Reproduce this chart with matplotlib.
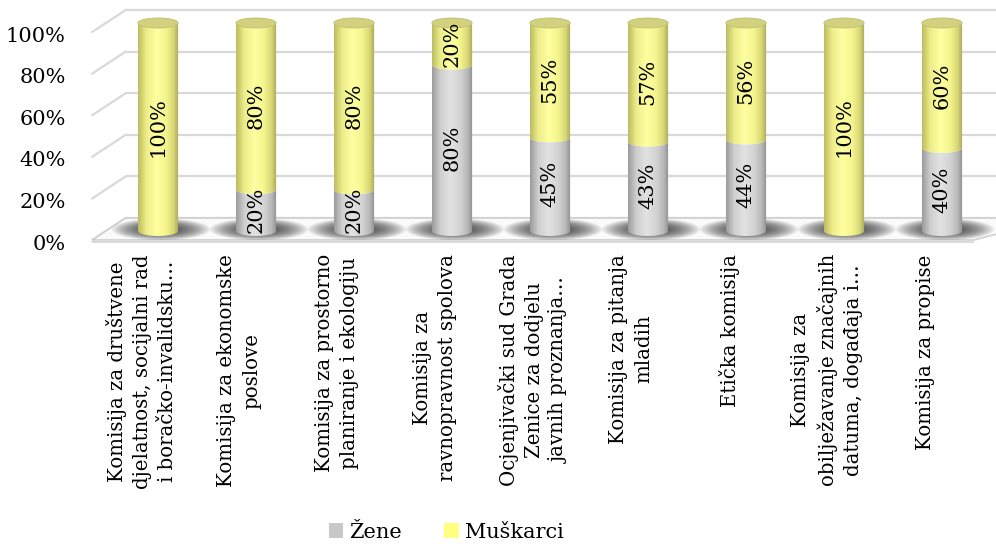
import numpy as np
import matplotlib
matplotlib.use('Agg')
import matplotlib.pyplot as plt
from matplotlib.path import Path
from matplotlib.patches import PathPatch, Polygon, Ellipse, Patch
from matplotlib.colors import LinearSegmentedColormap

plt.rcParams['font.family'] = ['DejaVu Serif']

categories = [
    'Komisija za društvene\ndjelatnost, socijalni rad\ni boračko-invalidsku…',
    'Komisija za ekonomske\nposlove',
    'Komisija za prostorno\nplaniranje i ekologiju',
    'Komisija za\nravnopravnost spolova',
    'Ocjenjivački sud Grada\nZenice za dodjelu\njavnih proznanja…',
    'Komisija za pitanja\nmladih',
    'Etička komisija',
    'Komisija za\nobilježavanje značajnih\ndatuma, događaja i…',
    'Komisija za propise',
]
zene = [0, 20, 20, 80, 45, 43, 44, 0, 40]
muskarci = [100, 80, 80, 20, 55, 57, 56, 100, 60]
series_names = ['Žene', 'Muškarci']
yticks = [0, 20, 40, 60, 80, 100]

# 3d look: depth offsets (x in category units, y in percent)
DX = 0.17
BACK_DY = 6.25
FRONT_DY = -5.3
W = 0.205      # half width of cylinder
B = 2.4        # half height of ellipse cap
FS = 15
FS_CAT = 14.2

yellow_cm = LinearSegmentedColormap.from_list('y', [
    (0.0, '#BDBD62'), (0.2, '#EDED8A'), (0.45, '#FFFFA0'),
    (0.7, '#F4F48E'), (0.88, '#D6D676'), (1.0, '#A8A858')])
gray_cm = LinearSegmentedColormap.from_list('g', [
    (0.0, '#9C9C9C'), (0.2, '#CFCFCF'), (0.45, '#E2E2E2'),
    (0.7, '#D2D2D2'), (0.88, '#B8B8B8'), (1.0, '#8E8E8E')])
cap_colors = {'y': '#D2D27E', 'g': '#C4C4C4'}


def segment_path(x, y0, y1):
    t = np.linspace(np.pi, 2 * np.pi, 30)
    bot = np.column_stack([x + W * np.cos(t), y0 + B * np.sin(t)])
    top = np.column_stack([x + W * np.cos(t[::-1]), y1 + B * np.sin(t[::-1])])
    verts = np.vstack([[x - W, y1], bot, top, [x - W, y1]])
    return Path(verts)


def draw_segment(ax, x, y0, y1, cmap, zorder):
    patch = PathPatch(segment_path(x, y0, y1), facecolor='none',
                      edgecolor='none', transform=ax.transData)
    ax.add_patch(patch)
    grad = np.linspace(0, 1, 64).reshape(1, -1)
    im = ax.imshow(grad, extent=[x - W, x + W, y0 - B, y1], cmap=cmap,
                   aspect='auto', interpolation='bilinear', zorder=zorder)
    im.set_clip_path(patch)


fig = plt.figure(figsize=(9.96, 5.54), dpi=100)
ax = fig.add_axes([85 / 996, 1 - 250 / 554, 911 / 996, 245 / 554])
n = len(categories)
xs = np.arange(n)

left_f, left_b = -0.5 - DX, -0.5 + DX
right_f, right_b = n - 0.5 - DX, n - 0.5 + DX + 0.5

# back wall and side wall grid
for v in yticks:
    ax.plot([left_b, right_b], [v + BACK_DY, v + BACK_DY], color='#D9D9D9',
            lw=1.6, zorder=1, solid_capstyle='butt')
    ax.plot([left_f, left_b], [v + FRONT_DY + 1, v + BACK_DY], color='#D9D9D9',
            lw=1.6, zorder=1)

# floor
floor_top = [(left_f, FRONT_DY + 1), (right_f, FRONT_DY + 1),
             (right_b, BACK_DY), (left_b, BACK_DY)]
floor = Polygon(floor_top, closed=True, facecolor='#FAFAFA', edgecolor='#D0D0D0',
                lw=1.2, zorder=2)
ax.add_patch(floor)
ax.add_patch(Polygon([(left_f, FRONT_DY + 1), (right_f, FRONT_DY + 1),
                      (right_f, FRONT_DY - 0.6), (left_f, FRONT_DY - 0.6)],
                     closed=True, facecolor='#DADADA', edgecolor='none', zorder=2))

# shadows
for i in xs:
    for k in range(16):
        s = 1.0 - k * 0.05
        e = Ellipse((i + 0.03, 0.8), 1.0 * s, 10.5 * s, facecolor='#202020',
                    edgecolor='none', alpha=0.08, zorder=3)
        ax.add_patch(e)
        e.set_clip_path(floor)

# cylinders
for i in xs:
    z, m = zene[i], muskarci[i]
    if z > 0:
        draw_segment(ax, i, 0, z, gray_cm, 4)
    if m > 0:
        draw_segment(ax, i, z, z + m, yellow_cm, 4)
    top = z + m
    cap = cap_colors['y'] if m > 0 else cap_colors['g']
    ax.add_patch(Ellipse((i, top), 2 * W, 2 * B, facecolor=cap,
                         edgecolor='#BDBD70', lw=0.6, zorder=5))
    if z > 0:
        ax.text(i, z / 2, '%d%%' % z, rotation=90, ha='center', va='center',
                fontsize=FS, zorder=10)
    if m > 0:
        ax.text(i, z + m / 2, '%d%%' % m, rotation=90, ha='center', va='center',
                fontsize=FS, zorder=10)

ax.set_xlim(-0.745, 8.551)
ax.set_ylim(-9.13, 108.65)
ax.set_yticks([v + FRONT_DY for v in yticks])
ax.set_yticklabels(['%d%%' % v for v in yticks], fontsize=FS)
ax.set_xticks(xs - DX)
ax.set_xticklabels(categories, rotation=90, fontsize=FS_CAT, ha='center', va='top',
                   multialignment='center', linespacing=1.4)
ax.tick_params(length=0)
ax.tick_params(axis='y', pad=14)
ax.tick_params(axis='x', pad=3)
for sp in ax.spines.values():
    sp.set_visible(False)

handles = [Patch(facecolor='#C8C8C8', label=series_names[0]),
           Patch(facecolor='#FFFF80', label=series_names[1])]
fig.legend(handles=handles, loc='lower center', bbox_to_anchor=(0.448, -0.012), ncol=2,
           frameon=False, fontsize=FS, handlelength=0.7, handleheight=0.7,
           handletextpad=0.3, columnspacing=2.0)

fig.savefig('out.png', dpi=100)
